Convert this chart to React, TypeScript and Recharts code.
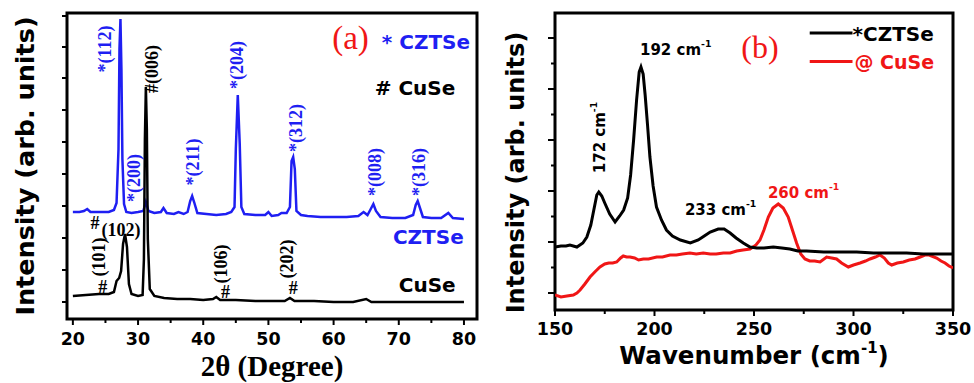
import React from "react";
import {
  Label,
  Line,
  LineChart,
  ReferenceArea,
  ReferenceDot,
  ReferenceLine,
  XAxis,
  YAxis,
} from "recharts";

const BLUE = "#1f1ff2";
const RED = "#f01616";
const SANS = "'DejaVu Sans', sans-serif";
const SERIF = "'Liberation Serif', serif";

// ---- (a) XRD ----
const xrdXTicks = [20, 25, 30, 35, 40, 45, 50, 55, 60, 65, 70, 75, 80];
const xrdYTicks = [17, 49, 81, 113, 145, 177, 209, 241, 272, 303];

// [2theta, intensity] (arb. units)
const cztseXrd: [number, number][] = [
  [20, 107], [21, 107], [21.7, 108], [22.2, 110], [22.7, 107], [24, 107],
  [25.5, 107], [26.3, 109], [26.7, 116], [27.0, 170], [27.15, 270],
  [27.3, 300], [27.45, 250], [27.6, 160], [27.85, 115], [28.2, 107],
  [29, 106], [30, 107], [30.8, 108], [31.2, 117], [31.6, 108], [32.5, 106],
  [33.5, 107], [33.9, 111], [34.4, 106], [35.5, 105], [36.2, 107], [37, 105],
  [37.6, 107], [38.0, 118], [38.3, 123], [38.6, 117], [39.1, 106],
  [40.5, 105], [42, 104], [43.5, 105], [44.3, 107], [44.8, 112],
  [45.0, 170], [45.3, 224], [45.6, 175], [45.85, 112], [46.3, 105],
  [48, 104], [49.5, 104], [50, 107], [50.5, 103], [51.5, 104], [52, 106],
  [52.8, 106], [53.3, 112], [53.55, 158], [53.8, 162], [54.05, 150],
  [54.3, 108], [55, 104], [56, 103], [58, 102], [60, 102], [62, 102],
  [63.8, 103], [64.6, 107], [65.2, 104], [65.7, 110], [66.1, 115],
  [66.5, 108], [67.2, 102], [69, 101], [71, 101], [72.2, 104], [72.6, 114],
  [72.9, 118], [73.2, 112], [73.7, 102], [75, 101], [76.5, 101],
  [77.6, 106], [78.3, 101], [80, 100],
];

const cuseXrd: [number, number][] = [
  [20, 23], [22, 24], [24, 25], [25.5, 25], [26.3, 27], [26.7, 38],
  [27.1, 41], [27.4, 48], [27.7, 75], [28.0, 85], [28.3, 72], [28.6, 35],
  [29, 25], [30, 23], [30.7, 24], [30.9, 60], [31.05, 180], [31.2, 232],
  [31.35, 190], [31.5, 80], [31.8, 30], [32.5, 23], [34, 21], [36, 20],
  [38, 20], [40, 19], [41.5, 20], [42, 22], [42.6, 19], [45, 19], [48, 18],
  [50, 18], [52.5, 18], [53.3, 21], [54, 18], [57, 18], [60, 17], [63, 17],
  [65, 20], [65.8, 17], [70, 17], [75, 17], [80, 17],
];

// ---- (b) Raman ----
const ramanXTicks = [150, 175, 200, 225, 250, 275, 300, 325, 350];
const ramanYTicks = [17, 42.5, 68, 93.5, 119, 144.5, 170, 195.5, 221, 246.5, 272];
const ramanYMajor = [17, 68, 119, 170, 221, 272];

const cztseRaman: [number, number][] = [
  [150, 63], [153, 64], [155.5, 64], [157.5, 65], [161, 63], [164, 67],
  [166, 73], [168, 85], [169.5, 100], [171, 115], [172, 118], [173.5, 114],
  [175, 107], [177.5, 96], [180.2, 88], [182.5, 94], [184.5, 100],
  [186.5, 112], [188, 135], [189.5, 170], [191, 210], [192.3, 238],
  [193.2, 243], [194.3, 236], [195.3, 215], [196.5, 185], [197.7, 153],
  [199.3, 124], [201, 103], [203.5, 90], [206, 80], [209, 74], [213, 70],
  [218, 67], [222, 70], [225, 74], [228, 78], [232, 81], [235, 81],
  [238, 77], [241, 72], [244.6, 67], [248, 63], [251.4, 62], [255, 62],
  [259.7, 63], [264, 62], [268, 61], [272, 59], [276.4, 59], [285, 58],
  [293, 58], [301.6, 58], [310, 57], [318, 57], [326.7, 57], [335, 56],
  [343, 56], [350, 56],
];

const cuseRaman: [number, number][] = [
  [150, 15], [153, 13], [156, 14], [159.2, 15], [161, 17], [162.6, 20],
  [165, 26], [167.6, 33], [170, 38], [172.6, 43], [175, 46], [177, 47],
  [179, 47], [181, 48], [183, 52], [184.3, 54], [186, 53], [187.7, 53],
  [190, 52], [192, 50], [194.4, 51], [197, 51], [201.1, 53], [204, 53],
  [207.8, 55], [211, 55], [214, 56], [217.8, 57], [221, 56], [224.5, 57],
  [228, 56], [231, 56], [234.6, 57], [238, 57], [241.3, 59], [244.5, 60],
  [248, 61], [251, 65], [253, 70], [255, 80], [257.2, 93], [259.5, 102],
  [262.2, 106], [264.7, 102], [267.2, 93], [269.3, 80], [271.4, 67],
  [273.5, 56], [275.6, 51], [278, 49], [280.5, 49], [283.2, 48],
  [286.5, 53], [289, 52], [291.5, 51], [294, 47], [297.4, 43], [300, 45],
  [303.3, 47], [306, 49], [308.3, 51], [311, 53], [313.3, 55], [315.5, 52],
  [317.5, 47], [319.2, 45], [322, 47], [325, 48], [328, 50], [330.9, 51],
  [333.5, 53], [335.9, 55], [338, 55], [341.8, 52], [344, 49], [346, 47],
  [348, 44], [350, 42],
];

type Note = {
  x: number;
  y: number;
  text: string;
  sup?: string;
  color: string;
  font: "sans" | "serif" | "serifPlain";
  size: number;
  rotate?: boolean;
  anchor?: "start" | "middle";
};

const xrdNotes: Note[] = [
  { x: 24.9, y: 270, text: "*(112)", color: BLUE, font: "serif", size: 18, rotate: true },
  { x: 29.4, y: 141, text: "*(200)", color: BLUE, font: "serif", size: 18, rotate: true },
  { x: 32.1, y: 250, text: "#(006)", color: "#000", font: "serif", size: 18, rotate: true },
  { x: 38.5, y: 157, text: "*(211)", color: BLUE, font: "serif", size: 18, rotate: true },
  { x: 45.2, y: 254, text: "*(204)", color: BLUE, font: "serif", size: 18, rotate: true },
  { x: 54.2, y: 191, text: "*(312)", color: BLUE, font: "serif", size: 18, rotate: true },
  { x: 66.3, y: 147, text: "*(008)", color: BLUE, font: "serif", size: 18, rotate: true },
  { x: 73.1, y: 147, text: "*(316)", color: BLUE, font: "serif", size: 18, rotate: true },
  { x: 24.0, y: 62, text: "(101)", color: "#000", font: "serif", size: 18, rotate: true },
  { x: 24.6, y: 32, text: "#", color: "#000", font: "serif", size: 18 },
  { x: 23.4, y: 96, text: "#", color: "#000", font: "serif", size: 18 },
  { x: 27.4, y: 89, text: "(102)", color: "#000", font: "serif", size: 18 },
  { x: 42.8, y: 55, text: "(106)", color: "#000", font: "serif", size: 18, rotate: true },
  { x: 43.4, y: 27, text: "#", color: "#000", font: "serif", size: 18 },
  { x: 52.9, y: 60, text: "(202)", color: "#000", font: "serif", size: 18, rotate: true },
  { x: 53.8, y: 31, text: "#", color: "#000", font: "serif", size: 18 },
  { x: 62.6, y: 281, text: "(a)", color: RED, font: "serifPlain", size: 33 },
  { x: 67.4, y: 277, text: "* CZTSe", color: BLUE, font: "sans", size: 20, anchor: "start" },
  { x: 66.3, y: 231, text: "# CuSe", color: "#000", font: "sans", size: 20, anchor: "start" },
  { x: 69.1, y: 82, text: "CZTSe", color: BLUE, font: "sans", size: 20, anchor: "start" },
  { x: 70.0, y: 34, text: "CuSe", color: "#000", font: "sans", size: 20, anchor: "start" },
];

const ramanNotes: Note[] = [
  { x: 253, y: 263, text: "(b)", color: RED, font: "serifPlain", size: 32 },
  { x: 299.5, y: 276.5, text: "*CZTSe", color: "#000", font: "sans", size: 20, anchor: "start" },
  { x: 300.5, y: 248.5, text: "@ CuSe", color: RED, font: "sans", size: 19, anchor: "start" },
  { x: 192.7, y: 260, text: "192 cm", sup: "-1", color: "#000", font: "sans", size: 15, anchor: "start" },
  { x: 172.6, y: 172.5, text: "172 cm", sup: "-1", color: "#000", font: "sans", size: 15, rotate: true },
  { x: 215.3, y: 100, text: "233 cm", sup: "-1", color: "#000", font: "sans", size: 15, anchor: "start" },
  { x: 257, y: 117, text: "260 cm", sup: "-1", color: RED, font: "sans", size: 15, anchor: "start" },
];

const ramanLegend = [
  { from: 278, to: 299.5, y: 277, color: "#000" },
  { from: 278, to: 299.5, y: 248.5, color: RED },
];

const toPoints = (arr: [number, number][]) => arr.map(([x, y]) => ({ x, y }));

function renderNote(n: Note) {
  return (props: any) => {
    const { cx, cy } = props;
    const family = n.font === "sans" ? SANS : SERIF;
    const weight = n.font === "serifPlain" ? "normal" : "bold";
    return (
      <text
        x={cx}
        y={cy}
        fill={n.color}
        fontFamily={family}
        fontWeight={weight}
        fontSize={n.size}
        textAnchor={n.anchor ?? "middle"}
        dominantBaseline="central"
        transform={n.rotate ? `rotate(-90, ${cx}, ${cy})` : undefined}
      >
        {n.text}
        {n.sup && (
          <tspan fontSize={n.size * 0.62} dy={-n.size * 0.45}>
            {n.sup}
          </tspan>
        )}
      </text>
    );
  };
}

function xTick(labelEvery: number, labelDy: number) {
  return (props: any) => {
    const { x, y, payload } = props;
    const major = payload.value % labelEvery === 0;
    return (
      <g>
        <line x1={x} x2={x} y1={y} y2={y + (major ? 6 : 4)} stroke="#000" strokeWidth={2} />
        {major && (
          <text
            x={x}
            y={y + labelDy}
            textAnchor="middle"
            fontFamily={SANS}
            fontWeight="bold"
            fontSize={17.5}
            fill="#000"
          >
            {payload.value}
          </text>
        )}
      </g>
    );
  };
}

function yTick(majors: number[] | null) {
  return (props: any) => {
    const { x, y, payload } = props;
    const len = majors ? (majors.includes(payload.value) ? 7 : 4) : 5;
    return <line x1={x - len} x2={x} y1={y} y2={y} stroke="#000" strokeWidth={2} />;
  };
}

function yTitle(dy: number, size: number) {
  return (props: any) => {
    const vb = props.viewBox ?? { x: 0, y: 13, width: 67, height: 306 };
    const cx = vb.x + 34;
    const cy = vb.y + vb.height / 2 + dy;
    return (
      <text
        x={cx}
        y={cy}
        transform={`rotate(-90, ${cx}, ${cy})`}
        textAnchor="middle"
        fontFamily={SANS}
        fontWeight="bold"
        fontSize={size}
        fill="#000"
      >
        Intensity (arb. units)
      </text>
    );
  };
}

const xrdXTitle = (props: any) => {
  const vb = props.viewBox ?? { x: 67, y: 319, width: 410, height: 64 };
  return (
    <text
      x={vb.x + vb.width / 2}
      y={vb.y + 57}
      textAnchor="middle"
      fontFamily={SERIF}
      fontWeight="bold"
      fontSize={29}
      fill="#000"
    >
      2θ (Degree)
    </text>
  );
};

const ramanXTitle = (props: any) => {
  const vb = props.viewBox ?? { x: 65, y: 310, width: 398, height: 73 };
  return (
    <text
      x={vb.x + vb.width / 2}
      y={vb.y + 54}
      textAnchor="middle"
      fontFamily={SANS}
      fontWeight="bold"
      fontSize={24.5}
      fill="#000"
    >
      Wavenumber (cm
      <tspan fontSize={15} dy={-11}>-1</tspan>
      <tspan dy={11}>)</tspan>
    </text>
  );
};

function XrdPanel() {
  return (
    <LineChart width={490} height={383} margin={{ top: 13, right: 13, left: 0, bottom: 0 }}>
      <XAxis
        dataKey="x"
        type="number"
        domain={[19.1, 82]}
        allowDataOverflow
        ticks={xrdXTicks}
        interval={0}
        axisLine={false}
        tickLine={false}
        tickSize={0}
        tickMargin={0}
        height={64}
        tick={xTick(10, 26)}
      >
        <Label content={xrdXTitle} />
      </XAxis>
      <YAxis
        type="number"
        domain={[0, 306]}
        allowDataOverflow
        ticks={xrdYTicks}
        interval={0}
        axisLine={false}
        tickLine={false}
        tickSize={0}
        tickMargin={0}
        width={67}
        tick={yTick(null)}
      >
        <Label content={yTitle(0, 25.5)} />
      </YAxis>
      <Line
        data={toPoints(cztseXrd)}
        dataKey="y"
        type="linear"
        stroke={BLUE}
        strokeWidth={2.5}
        dot={false}
        isAnimationActive={false}
      />
      <Line
        data={toPoints(cuseXrd)}
        dataKey="y"
        type="linear"
        stroke="#000"
        strokeWidth={2.5}
        dot={false}
        isAnimationActive={false}
      />
      <ReferenceArea
        x1={19.1}
        x2={82}
        y1={0}
        y2={306}
        fill="none"
        stroke="#000"
        strokeWidth={3}
        ifOverflow="visible"
      />
      {xrdNotes.map((n, i) => (
        <ReferenceDot key={i} x={n.x} y={n.y} r={0} ifOverflow="visible" shape={renderNote(n)} />
      ))}
    </LineChart>
  );
}

function RamanPanel() {
  return (
    <LineChart width={484} height={383} margin={{ top: 13, right: 21, left: 0, bottom: 0 }}>
      <XAxis
        dataKey="x"
        type="number"
        domain={[150, 350]}
        allowDataOverflow
        ticks={ramanXTicks}
        interval={0}
        axisLine={false}
        tickLine={false}
        tickSize={0}
        tickMargin={0}
        height={73}
        tick={xTick(50, 25)}
      >
        <Label content={ramanXTitle} />
      </XAxis>
      <YAxis
        type="number"
        domain={[0, 297]}
        allowDataOverflow
        ticks={ramanYTicks}
        interval={0}
        axisLine={false}
        tickLine={false}
        tickSize={0}
        tickMargin={0}
        width={65}
        tick={yTick(ramanYMajor)}
      >
        <Label content={yTitle(11, 24)} />
      </YAxis>
      <Line
        data={toPoints(cuseRaman)}
        dataKey="y"
        type="linear"
        stroke={RED}
        strokeWidth={3}
        dot={false}
        isAnimationActive={false}
      />
      <Line
        data={toPoints(cztseRaman)}
        dataKey="y"
        type="linear"
        stroke="#000"
        strokeWidth={3}
        dot={false}
        isAnimationActive={false}
      />
      <ReferenceArea
        x1={150}
        x2={350}
        y1={0}
        y2={297}
        fill="none"
        stroke="#000"
        strokeWidth={3}
        ifOverflow="visible"
      />
      {ramanLegend.map((l, i) => (
        <ReferenceLine
          key={`l${i}`}
          segment={[
            { x: l.from, y: l.y },
            { x: l.to, y: l.y },
          ]}
          stroke={l.color}
          strokeWidth={3}
          ifOverflow="visible"
        />
      ))}
      {ramanNotes.map((n, i) => (
        <ReferenceDot key={i} x={n.x} y={n.y} r={0} ifOverflow="visible" shape={renderNote(n)} />
      ))}
    </LineChart>
  );
}

export default function App() {
  return (
    <div style={{ position: "absolute", left: 0, top: 0, width: 974, height: 383, background: "#fff" }}>
      <div style={{ position: "absolute", left: 0, top: 0 }}>
        <XrdPanel />
      </div>
      <div style={{ position: "absolute", left: 490, top: 0 }}>
        <RamanPanel />
      </div>
    </div>
  );
}
